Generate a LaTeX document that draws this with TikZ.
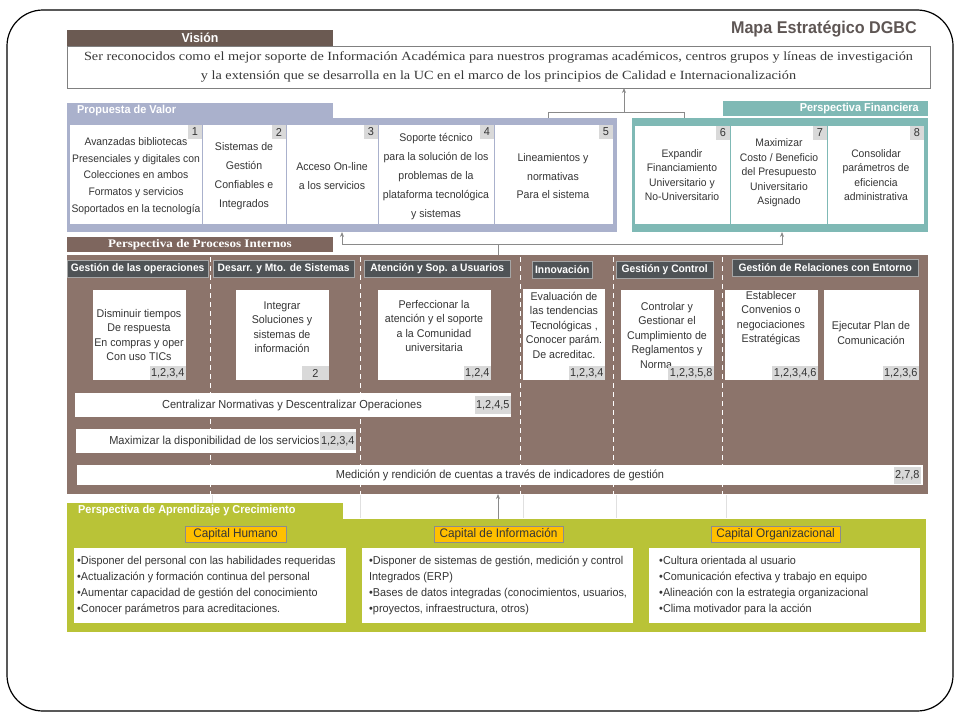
\documentclass[tikz,border=0pt]{standalone}
\usepackage{fontspec}
\setmainfont{Liberation Sans}
\newfontfamily\nar[FakeStretch=0.95]{Liberation Sans}
\newfontfamily\ser[FakeStretch=1.14]{Liberation Serif}
\usetikzlibrary{arrows.meta}
\definecolor{visionhead}{HTML}{6B5A52}
\definecolor{prochead}{HTML}{7E665E}
\definecolor{procbg}{HTML}{8C746B}
\definecolor{lav}{HTML}{AAB1CC}
\definecolor{tealc}{HTML}{7FB9B5}
\definecolor{greenc}{HTML}{B9C337}
\definecolor{colhead}{HTML}{4F5356}
\definecolor{orangec}{HTML}{FFC000}
\definecolor{badge}{HTML}{D9D9D9}
\definecolor{txt}{HTML}{353535}
\definecolor{titlec}{HTML}{5E5654}
\definecolor{connc}{HTML}{8A8A8A}
\tikzset{
  area/.style={inner sep=0pt, outer sep=0pt, anchor=north west},
  wbox/.style={fill=white, inner sep=0pt, outer sep=0pt, anchor=north west},
  btxt/.style={font=\nar\fontsize{11.2}{14.5}\selectfont, text=txt, align=center, inner sep=0pt},
  bartxt/.style={font=\nar\fontsize{11.6}{14}\selectfont, text=txt, align=center, inner sep=0pt},
  ptxt/.style={font=\nar\fontsize{11.1}{19}\selectfont, text=txt, align=center, inner sep=0pt},
  ltxt/.style={font=\nar\fontsize{11.4}{16}\selectfont, text=txt, align=left, inner sep=0pt, anchor=west},
  numb/.style={fill=badge, text=txt, font=\nar\fontsize{11.5}{12}\selectfont, inner sep=1.5pt, minimum height=14pt, minimum width=14pt, outer sep=0pt},
  chead/.style={fill=colhead, draw=black!35, text=white, font=\nar\bfseries\fontsize{10.8}{12}\selectfont, inner sep=0pt, minimum height=17pt, anchor=north west},
  htxt/.style={text=white, font=\nar\bfseries\fontsize{11.5}{13}\selectfont, inner sep=0pt},
  capbox/.style={fill=orangec, draw=black!45, text=txt, font=\nar\fontsize{12.4}{13}\selectfont, inner sep=0pt, minimum height=16pt},
  cline/.style={draw=connc, line width=0.8pt},
  carrow/.style={draw=connc, line width=0.8pt, -{Stealth[length=5pt,width=4pt]}},
  sepline/.style={draw=white, line width=0.8pt, dash pattern=on 5pt off 4pt}
}
\begin{document}
\begin{tikzpicture}[x=1pt,y=-1pt]
\useasboundingbox (0,0) rectangle (960,720);
\draw[line width=1.2pt, rounded corners=36pt] (7,10) rectangle (953,711);

% title
\node[anchor=base east, font=\nar\bfseries\fontsize{17}{20}\selectfont, text=titlec, inner sep=0pt] (title) at (917,33) {Mapa Estratégico DGBC};

% vision
\node[area, fill=visionhead, minimum width=266pt, minimum height=16pt] (vishead) at (67,30) {};
\node[htxt, font=\nar\bfseries\fontsize{13}{14}\selectfont] (vishtxt) at (vishead.center) {Visión};
\node[area, draw=black!50, fill=white, minimum width=863pt, minimum height=42pt, align=center, font=\ser\fontsize{12.5}{19}\selectfont, text=black!78] (vision) at (67,46) {Ser reconocidos como el mejor soporte de Información Académica para nuestros programas académicos, centros grupos y líneas de investigación\\y la extensión que se desarrolla en la UC en el marco de los principios de Calidad e Internacionalización};

% propuesta de valor
\node[area, fill=lav, minimum width=266pt, minimum height=16pt] (pvhead) at (67,103) {};
\node[htxt, anchor=west] (pvhtxt) at (77,111) {Propuesta de Valor};
\node[area, fill=lav, minimum width=550pt, minimum height=114pt] (pvframe) at (67,118) {};
\node[wbox, minimum width=132pt, minimum height=99pt] (pv1) at (70,125) {};
\node[wbox, minimum width=83pt, minimum height=99pt] (pv2) at (203,125) {};
\node[wbox, minimum width=91pt, minimum height=99pt] (pv3) at (287,125) {};
\node[wbox, minimum width=115pt, minimum height=99pt] (pv4) at (379,125) {};
\node[wbox, minimum width=118pt, minimum height=99pt] (pv5) at (495,125) {};
\node[numb, anchor=north east] (n1) at (pv1.north east) {1};
\node[numb, anchor=north east] (n2) at (pv2.north east) {2};
\node[numb, anchor=north east] (n3) at (pv3.north east) {3};
\node[numb, anchor=north east] (n4) at (pv4.north east) {4};
\node[numb, anchor=north east] (n5) at (pv5.north east) {5};
\node[ptxt, font=\nar\fontsize{10.9}{16.7}\selectfont] (pv1t) at (136,176) {Avanzadas bibliotecas\\Presenciales y digitales con\\Colecciones en ambos\\Formatos y servicios\\Soportados en la tecnología};
\node[ptxt] (pv2t) at (244,176) {Sistemas de\\Gestión\\Confiables e\\Integrados};
\node[ptxt] (pv3t) at (332,176.5) {Acceso On-line\\a los servicios};
\node[ptxt] (pv4t) at (436,177) {Soporte técnico\\para la solución de los\\problemas de la\\plataforma tecnológica\\y sistemas};
\node[ptxt, font=\nar\fontsize{11.1}{18.5}\selectfont] (pv5t) at (553,176.5) {Lineamientos y\\normativas\\Para el sistema};

% perspectiva financiera
\node[area, fill=tealc, minimum width=205pt, minimum height=15pt] (pfhead) at (723,101) {};
\node[htxt, anchor=east] (pfhtxt) at (919,109) {Perspectiva Financiera};
\node[area, fill=tealc, minimum width=296pt, minimum height=114pt] (pfframe) at (632,118) {};
\node[wbox, minimum width=95pt, minimum height=98pt] (pf6) at (635,126) {};
\node[wbox, minimum width=96pt, minimum height=98pt] (pf7) at (731,126) {};
\node[wbox, minimum width=96pt, minimum height=98pt] (pf8) at (828,126) {};
\node[numb, anchor=north east] (n6) at (pf6.north east) {6};
\node[numb, anchor=north east] (n7) at (pf7.north east) {7};
\node[numb, anchor=north east] (n8) at (pf8.north east) {8};
\node[btxt, font=\nar\fontsize{10.9}{14.5}\selectfont] (pf6t) at (682,175) {Expandir\\Financiamiento\\Universitario y\\No-Universitario};
\node[btxt, font=\nar\fontsize{10.9}{14.5}\selectfont] (pf7t) at (779,173) {Maximizar\\Costo / Beneficio\\del Presupuesto\\Universitario\\Asignado};
\node[btxt, font=\nar\fontsize{10.9}{14.5}\selectfont] (pf8t) at (876,175) {Consolidar\\parámetros de\\eficiencia\\administrativa};

% connectors to vision
\coordinate (vjoin) at (624,112);
\coordinate (va) at (548,112);
\coordinate (vb) at (684,112);
\draw[cline] (va |- pvframe.north) -- (va) -- (vb) -- (vb |- pfframe.north);
\draw[carrow] (vjoin) -- (vjoin |- vision.south);

% procesos internos
\node[area, fill=prochead, minimum width=266pt, minimum height=15pt] (prochd) at (67,237) {};
\node[htxt, font=\ser\bfseries\fontsize{11.5}{12}\selectfont] (prochdt) at (200,244.5) {Perspectiva de Procesos Internos};
\node[area, fill=procbg, minimum width=861pt, minimum height=239pt] (procreg) at (67,255) {};

\coordinate (pjoin) at (498,244);
\coordinate (pa) at (342,244);
\coordinate (pb) at (782,244);
\draw[cline] (pjoin) -- (pjoin |- procreg.north);
\draw[carrow] (pjoin) -- (pa) -- (pa |- pvframe.south);
\draw[carrow] (pjoin) -- (pb) -- (pb |- pfframe.south);

\foreach \sx in {210,360,520,613,722} \draw[sepline] (\sx,257) -- (\sx,494);

\node[chead, minimum width=141pt] (h1) at (67,260) {Gestión de las operaciones};
\node[chead, minimum width=141pt] (h2) at (213,260) {Desarr. y Mto. de Sistemas};
\node[chead, minimum width=146pt] (h3) at (364,260) {Atención y Sop. a Usuarios};
\node[chead, minimum width=60pt] (h4) at (532,261) {Innovación};
\node[chead, minimum width=97pt] (h5) at (616,261) {Gestión y Control};
\node[chead, minimum width=186pt] (h6) at (732,259) {Gestión de Relaciones con Entorno};

\node[wbox, minimum width=93pt, minimum height=90pt] (bA) at (93,290) {};
\node[wbox, minimum width=93pt, minimum height=90pt] (bB) at (236,290) {};
\node[wbox, minimum width=113pt, minimum height=90pt] (bC) at (378,290) {};
\node[wbox, minimum width=82pt, minimum height=91pt] (bD) at (523,289) {};
\node[wbox, minimum width=93pt, minimum height=90pt] (bE) at (621,290) {};
\node[wbox, minimum width=93pt, minimum height=90pt] (bF) at (725,290) {};
\node[wbox, minimum width=95pt, minimum height=90pt] (bG) at (824,290) {};

\node[btxt] (bAt) at (139,335) {Disminuir tiempos\\De respuesta\\En compras y oper\\Con uso TICs};
\node[btxt] (bBt) at (282,327) {Integrar\\Soluciones y\\sistemas de\\información};
\node[btxt] (bCt) at (434,326) {Perfeccionar la\\atención y el soporte\\a la Comunidad\\universitaria};
\node[btxt] (bDt) at (564,325) {Evaluación de\\las tendencias\\Tecnológicas ,\\Conocer parám.\\De acreditac.};
\node[btxt] (bEt) at (667,335) {Controlar y\\Gestionar el\\Cumplimiento de\\Reglamentos y\\Norma\phantom{tivas}};
\node[btxt] (bFt) at (771,318) {Establecer\\Convenios o\\negociaciones\\Estratégicas};
\node[btxt] (bGt) at (871,333) {Ejecutar Plan de\\Comunicación};

\node[numb, anchor=south east] (nA) at (bA.south east) {1,2,3,4};
\node[numb, anchor=south east, minimum width=27pt] (nB) at (bB.south east) {2};
\node[numb, anchor=south east] (nC) at (bC.south east) {1,2,4};
\node[numb, anchor=south east] (nD) at (bD.south east) {1,2,3,4};
\node[numb, anchor=south east] (nE) at (bE.south east) {1,2,3,5,8};
\node[numb, anchor=south east] (nF) at (bF.south east) {1,2,3,4,6};
\node[numb, anchor=south east] (nG) at (bG.south east) {1,2,3,6};

\node[wbox, minimum width=436pt, minimum height=24pt] (bar1) at (75,393) {};
\node[wbox, minimum width=280pt, minimum height=24pt] (bar2) at (76,429) {};
\node[wbox, minimum width=846pt, minimum height=20pt] (bar3) at (77,465) {};
\node[bartxt] (bar1t) at (292,405) {Centralizar Normativas y Descentralizar Operaciones};
\node[numb, anchor=east, minimum height=18pt] (nb1) at (bar1.east) {1,2,4,5};
\node[numb, anchor=east, minimum height=18pt] (nb2) at (bar2.east) {1,2,3,4};
\node[bartxt, anchor=east] (bar2t) at (nb2.west) {Maximizar la disponibilidad de los servicios};
\node[bartxt] (bar3t) at (500,475) {Medición y rendición de cuentas a través de indicadores de gestión};
\node[numb, anchor=east, minimum height=17pt] (nb3) at ([xshift=-2pt]bar3.east) {2,7,8};

% aprendizaje
\foreach \sx in {212,360,523,616,726} \draw[black!12, line width=0.6pt] (\sx,495) -- (\sx,518);
\node[area, fill=greenc, minimum width=276pt, minimum height=16pt] (lhead) at (67,503) {};
\node[htxt, anchor=west] (lheadt) at (78,511) {Perspectiva de Aprendizaje y Crecimiento};
\node[area, fill=greenc, minimum width=859pt, minimum height=113pt] (learnreg) at (67,519) {};
\coordinate (ljoin) at (498,519);
\draw[carrow] (learnreg.north -| ljoin) -- (procreg.south -| ljoin);

\node[capbox, minimum width=101pt] (capH) at (235.5,534) {Capital Humano};
\node[capbox, minimum width=129pt] (capI) at (498.5,534) {Capital de Información};
\node[capbox, minimum width=129pt] (capO) at (775.5,534) {Capital Organizacional};

\node[wbox, minimum width=272pt, minimum height=75pt] (lb1) at (74,548) {};
\node[wbox, minimum width=271pt, minimum height=75pt] (lb2) at (362,548) {};
\node[wbox, minimum width=271pt, minimum height=75pt] (lb3) at (649,548) {};
\node[ltxt] (lb1t) at ([xshift=3pt]lb1.west) {•Disponer del personal con las habilidades requeridas\\•Actualización y formación continua del personal\\•Aumentar capacidad de gestión del conocimiento\\•Conocer parámetros para acreditaciones.};
\node[ltxt] (lb2t) at ([xshift=7pt]lb2.west) {•Disponer de sistemas de gestión, medición y control\\Integrados (ERP)\\•Bases de datos integradas (conocimientos, usuarios,\\•proyectos, infraestructura, otros)};
\node[ltxt] (lb3t) at ([xshift=10pt]lb3.west) {•Cultura orientada al usuario\\•Comunicación efectiva y trabajo en equipo\\•Alineación con la estrategia organizacional\\•Clima motivador para la acción};
\end{tikzpicture}
\end{document}
